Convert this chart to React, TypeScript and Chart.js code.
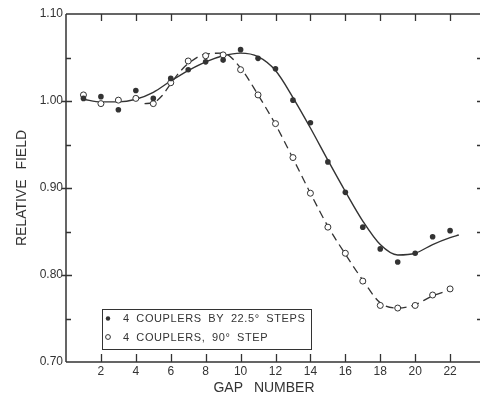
import React, { useEffect, useRef } from "react";
import { Chart, registerables } from "chart.js";

Chart.register(...registerables);

// ---- data ----
const gapNumbers = [1, 2, 3, 4, 5, 6, 7, 8, 9, 10, 11, 12, 13, 14, 15, 16, 17, 18, 19, 20, 21, 22];
const steps225Values = [1.003, 1.005, 0.990, 1.012, 1.003, 1.026, 1.036, 1.045, 1.047, 1.059, 1.049, 1.037, 1.001, 0.975, 0.930, 0.895, 0.855, 0.830, 0.815, 0.825, 0.844, 0.851];
const step90Values = [1.007, 0.997, 1.001, 1.003, 0.997, 1.021, 1.046, 1.052, 1.053, 1.036, 1.007, 0.974, 0.935, 0.894, 0.855, 0.825, 0.793, 0.765, 0.762, 0.765, 0.777, 0.784];

// smooth curves drawn by hand in the original
const fitSolidGaps = [1, 2, 3, 4, 5, 6, 7, 8, 9, 10, 11, 12, 13, 14, 15, 16, 17, 18, 19, 20, 21, 22, 22.5];
const fitSolidValues = [1.002, 0.999, 0.999, 1.002, 1.010, 1.023, 1.035, 1.045, 1.052, 1.055, 1.051, 1.035, 1.004, 0.969, 0.932, 0.896, 0.862, 0.835, 0.823, 0.825, 0.835, 0.843, 0.846];
const fitDashedGaps = [4.5, 5, 5.5, 6, 6.5, 7, 8, 9, 10, 11, 12, 13, 14, 15, 16, 17, 18, 19, 20, 21, 22];
const fitDashedValues = [0.997, 0.998, 1.006, 1.020, 1.033, 1.043, 1.054, 1.055, 1.038, 1.007, 0.973, 0.934, 0.894, 0.856, 0.824, 0.794, 0.768, 0.762, 0.766, 0.776, 0.783];

const xTickValues = [2, 4, 6, 8, 10, 12, 14, 16, 18, 20, 22];
const yTickValues = [0.7, 0.8, 0.9, 1.0, 1.1];
const yTickLabels = ["0.70", "0.80", "0.90", "1.00", "1.10"];
const yMinorValues = [0.75, 0.85, 0.95, 1.05];

const seriesALabel = "4 COUPLERS BY 22.5\u00B0 STEPS";
const seriesBLabel = "4 COUPLERS, 90\u00B0 STEP";
const xTitle = "GAP NUMBER";
const yTitle = "RELATIVE FIELD";

const INK = "#333333";
const FONT = "'Liberation Sans', Arial, sans-serif";

function setSpacing(ctx: any, word: string, letter: string) {
  try {
    ctx.wordSpacing = word;
    ctx.letterSpacing = letter;
  } catch (e) {}
}

const framePlugin = {
  id: "frame",
  beforeDraw(chart: any) {
    const ctx = chart.ctx;
    ctx.save();
    ctx.fillStyle = "#ffffff";
    ctx.fillRect(0, 0, chart.width, chart.height);
    ctx.restore();
    setSpacing(ctx, "6px", "0px");
  },
  afterDraw(chart: any) {
    const ctx = chart.ctx;
    const { left, right, top, bottom } = chart.chartArea;
    const xs = chart.scales.x;
    const ys = chart.scales.y;
    ctx.save();
    ctx.strokeStyle = INK;
    ctx.lineWidth = 1.5;
    ctx.beginPath();
    ctx.moveTo(left, top);
    ctx.lineTo(right, top);
    ctx.moveTo(left, bottom);
    ctx.lineTo(right, bottom);
    ctx.moveTo(left, top);
    ctx.lineTo(left, bottom);
    ctx.moveTo(right, top);
    ctx.lineTo(right, bottom);
    ctx.stroke();

    ctx.lineWidth = 1.3;
    ctx.beginPath();
    for (const v of xTickValues) {
      const px = Math.round(xs.getPixelForValue(v)) + 0.5;
      ctx.moveTo(px, top);
      ctx.lineTo(px, top + 7);
      ctx.moveTo(px, bottom);
      ctx.lineTo(px, bottom - 8);
    }
    for (const v of yTickValues) {
      const py = Math.round(ys.getPixelForValue(v)) + 0.5;
      if (v > 0.71 && v < 1.09) {
        ctx.moveTo(left - 4, py);
        ctx.lineTo(left + 6, py);
        ctx.moveTo(right - 8, py);
        ctx.lineTo(right, py);
      }
    }
    for (const v of yMinorValues) {
      const py = Math.round(ys.getPixelForValue(v)) + 0.5;
      ctx.moveTo(left, py);
      ctx.lineTo(left + 5, py);
      ctx.moveTo(right - 8, py);
      ctx.lineTo(right, py);
    }
    ctx.stroke();

    // x-axis title (slightly left of centre, as in the original)
    ctx.fillStyle = INK;
    ctx.font = `14px ${FONT}`;
    ctx.textAlign = "center";
    ctx.textBaseline = "middle";
    setSpacing(ctx, "7px", "0px");
    ctx.fillText(xTitle, 264, 388);

    // legend box
    const bx = 102.5, by = 309.5, bw = 209, bh = 40;
    ctx.fillStyle = "#ffffff";
    ctx.fillRect(bx, by, bw, bh);
    ctx.lineWidth = 1;
    ctx.strokeRect(bx, by, bw, bh);
    ctx.fillStyle = INK;
    ctx.beginPath();
    ctx.arc(108, 318.5, 2.2, 0, Math.PI * 2);
    ctx.fill();
    ctx.beginPath();
    ctx.arc(108, 337, 2.4, 0, Math.PI * 2);
    ctx.lineWidth = 1;
    ctx.stroke();
    ctx.font = `11px ${FONT}`;
    ctx.textBaseline = "middle";
    ctx.textAlign = "left";
    setSpacing(ctx, "3px", "0.6px");
    ctx.fillText(chart.data.datasets[0].label, 123, 319);
    ctx.fillText(chart.data.datasets[1].label, 123, 338);
    ctx.restore();
    setSpacing(ctx, "0px", "0px");
  },
};

export default function App() {
  const ref = useRef<HTMLCanvasElement | null>(null);

  useEffect(() => {
    if (!ref.current) return;
    const chart = new Chart(ref.current, {
      type: "scatter",
      data: {
        datasets: [
          {
            label: seriesALabel,
            data: gapNumbers.map((g, i) => ({ x: g, y: steps225Values[i] })),
            pointRadius: 2.8,
            pointBackgroundColor: INK,
            pointBorderWidth: 0,
            showLine: false,
            order: 0,
          },
          {
            label: seriesBLabel,
            data: gapNumbers.map((g, i) => ({ x: g, y: step90Values[i] })),
            pointRadius: 3,
            pointBackgroundColor: "#ffffff",
            pointBorderColor: INK,
            pointBorderWidth: 1,
            showLine: false,
            order: 0,
          },
          {
            label: "fit solid",
            data: fitSolidGaps.map((g, i) => ({ x: g, y: fitSolidValues[i] })),
            showLine: true,
            pointRadius: 0,
            borderColor: INK,
            borderWidth: 1.4,
            cubicInterpolationMode: "monotone",
            order: 1,
          },
          {
            label: "fit dashed",
            data: fitDashedGaps.map((g, i) => ({ x: g, y: fitDashedValues[i] })),
            showLine: true,
            pointRadius: 0,
            borderColor: INK,
            borderWidth: 1.3,
            borderDash: [8, 5],
            cubicInterpolationMode: "monotone",
            order: 1,
          },
        ],
      } as any,
      options: {
        responsive: false,
        animation: false,
        devicePixelRatio: 1,
        layout: { padding: { left: 0, right: 5, top: 14, bottom: 0 } },
        plugins: { legend: { display: false }, tooltip: { enabled: false } },
        scales: {
          x: {
            type: "linear",
            min: 0,
            max: 24,
            grid: { display: false, drawTicks: false },
            border: { display: false },
            afterBuildTicks: (s: any) => {
              s.ticks = xTickValues.map((v) => ({ value: v }));
            },
            afterFit: (s: any) => {
              s.height = 33;
            },
            ticks: {
              font: { family: FONT, size: 12, lineHeight: 1 },
              color: INK,
              padding: 4,
              autoSkip: false,
              maxRotation: 0,
              callback: (v: any) => String(v),
            },
            title: { display: false },
          },
          y: {
            type: "linear",
            min: 0.7,
            max: 1.1,
            grid: { display: false, drawTicks: false },
            border: { display: false },
            afterBuildTicks: (s: any) => {
              s.ticks = yTickValues.map((v) => ({ value: v }));
            },
            afterFit: (s: any) => {
              s.width = 66;
            },
            ticks: {
              font: { family: FONT, size: 12, lineHeight: 1 },
              color: INK,
              padding: 3,
              autoSkip: false,
              callback: (_v: any, i: number) => yTickLabels[i],
            },
            title: {
              display: true,
              text: yTitle,
              color: INK,
              font: { family: FONT, size: 14, lineHeight: 1 },
              padding: { top: 15, bottom: 0 },
            },
          },
        },
      } as any,
      plugins: [framePlugin],
    });
    return () => chart.destroy();
  }, []);

  return (
    <div
      style={{
        position: "fixed",
        left: 0,
        top: 0,
        width: 480,
        height: 395,
        overflow: "hidden",
        background: "#ffffff",
      }}
    >
      <canvas ref={ref} width={490} height={395} style={{ display: "block" }} />
    </div>
  );
}
